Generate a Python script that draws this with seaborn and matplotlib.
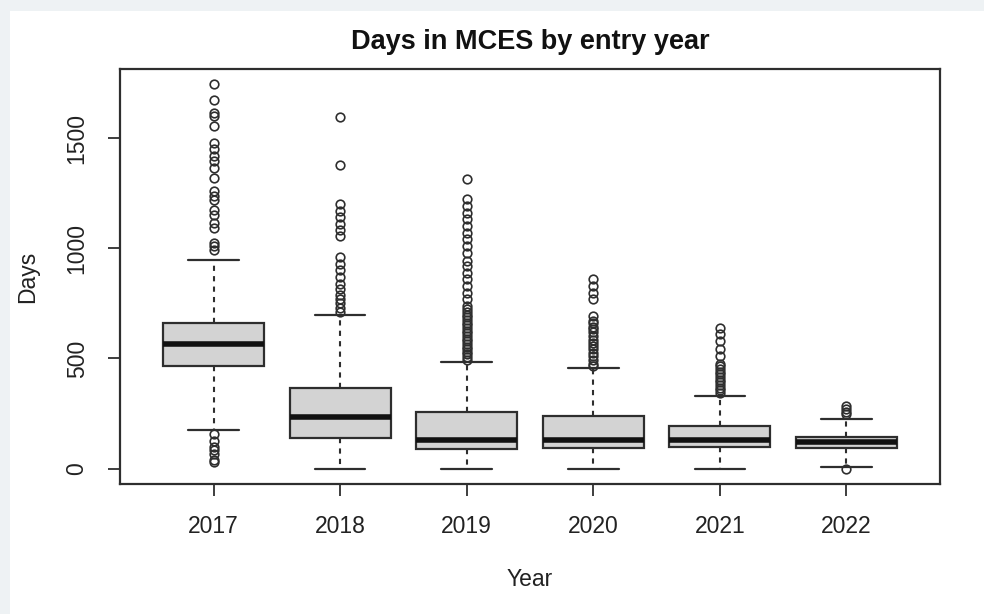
import matplotlib
matplotlib.use("Agg")
import matplotlib.pyplot as plt
from matplotlib.patches import Rectangle
import seaborn as sns

# Days spent in MCES, summarised per entry year (box statistics in days)
years = ["2017", "2018", "2019", "2020", "2021", "2022"]
q1 = [468, 141, 91, 95, 100, 95]
median = [564, 236, 132, 132, 132, 123]
q3 = [659, 368, 255, 241, 195, 145]
whisker_low = [176, 0, 0, 0, 0, 9]
whisker_high = [945, 695, 482, 455, 330, 227]

outliers_2017 = [1744, 1671, 1615, 1600, 1555, 1479, 1449, 1418, 1395, 1365,
                 1320, 1259, 1236, 1221, 1176, 1153, 1115, 1092, 1024, 1009,
                 994, 155, 125, 100, 85, 65, 40, 30]
outliers_2018 = [1595, 1378, 1200, 1170, 1140, 1110, 1085, 1058, 960, 930,
                 900, 870, 840, 815, 790, 770, 750, 730, 712]
outliers_2019 = [1314, 1223, 1191, 1159, 1132, 1100, 1068, 1041, 1009, 977,
                 941, 918, 886, 859, 827, 795, 768, 736, 723, 710, 698, 686,
                 674, 662, 650, 638, 626, 614, 602, 590, 578, 566, 554, 542,
                 530, 518, 506, 495]
outliers_2020 = [859, 827, 795, 768, 691, 670, 659, 645, 632, 618, 600, 585,
                 568, 555, 541, 525, 509, 495, 477, 466]
outliers_2021 = [636, 609, 577, 541, 509, 477, 464, 452, 440, 428, 416, 404,
                 392, 380, 368, 356, 344]
outliers_2022 = [282, 270, 259, 248, 0]
outliers = [outliers_2017, outliers_2018, outliers_2019,
            outliers_2020, outliers_2021, outliers_2022]

sns.set_theme(style="ticks")
plt.rcParams["font.family"] = ["Liberation Sans", "DejaVu Sans"]

ink = "#2e2e2e"
fig = plt.figure(figsize=(9.84, 6.14), dpi=100, facecolor="#eef2f4")
fig.patches.append(Rectangle((10 / 984, 0), 1, (614 - 11) / 614,
                             transform=fig.transFigure, facecolor="white",
                             edgecolor="none", zorder=-10))

ax = fig.add_axes([120 / 984, (614 - 484) / 614, 820 / 984, 415 / 614])
ax.set_facecolor("white")

stats = []
for i, y in enumerate(years):
    stats.append(dict(label=y, q1=q1[i], med=median[i], q3=q3[i],
                      whislo=whisker_low[i], whishi=whisker_high[i],
                      fliers=outliers[i]))

positions = list(range(1, len(years) + 1))
ax.bxp(stats, positions=positions, widths=0.8, patch_artist=True,
       showfliers=True,
       boxprops=dict(facecolor="#d3d3d3", edgecolor=ink, linewidth=1.6),
       medianprops=dict(color="#111111", linewidth=4.0, solid_capstyle="butt"),
       whiskerprops=dict(color=ink, linewidth=1.5, linestyle=(0, (2.5, 2.5))),
       capprops=dict(color=ink, linewidth=1.6),
       capwidths=0.4,
       flierprops=dict(marker="o", markerfacecolor="none",
                       markeredgecolor=ink, markersize=6.2,
                       markeredgewidth=1.2))

all_vals = whisker_low + whisker_high + [v for o in outliers for v in o]
lo, hi = min(all_vals), max(all_vals)
span = hi - lo
ax.set_ylim(lo - 0.04 * span, hi + 0.04 * span)
ax.set_xlim(0.5 - 0.24, len(years) + 0.5 + 0.24)

ax.set_xticks(positions)
ax.set_xticklabels(years)
ax.set_yticks([0, 500, 1000, 1500])
ax.set_yticklabels(["0", "500", "1000", "1500"], rotation=90, va="center")

ax.tick_params(axis="both", direction="out", length=8.6, width=1.3,
               color=ink, labelsize=16.5, labelcolor="#222222", pad=14)

for s in ax.spines.values():
    s.set_visible(True)
    s.set_color(ink)
    s.set_linewidth(1.6)

ax.set_title("Days in MCES by entry year", fontsize=19.5, fontweight="bold",
             color="#111111", y=1 + 27 / 415, va="center", pad=0)
ax.set_xlabel("Year", fontsize=16.5, color="#222222", va="center")
ax.xaxis.set_label_coords(0.5, -(580 - 484) / 415)
ax.set_ylabel("Days", fontsize=16.5, color="#222222", va="center")
ax.yaxis.set_label_coords(-(120 - 28) / 820, 0.5)

fig.savefig("out.png", dpi=100, facecolor=fig.get_facecolor())
